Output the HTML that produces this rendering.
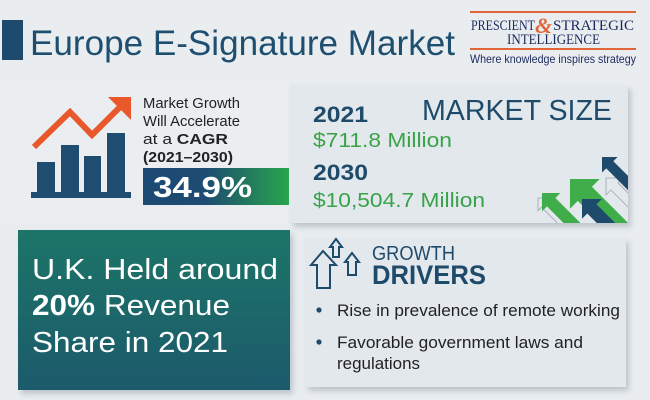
<!DOCTYPE html>
<html>
<head>
<meta charset="utf-8">
<style>
html,body{margin:0;padding:0;background:#e9edf0;}
svg{display:block;}
text{font-family:"Liberation Sans",sans-serif;}
</style>
</head>
<body>
<svg width="650" height="400" viewBox="0 0 650 400" xmlns="http://www.w3.org/2000/svg">
<defs>
<filter id="sh" x="-10%" y="-10%" width="125%" height="130%">
<feDropShadow dx="3" dy="4" stdDeviation="3" flood-color="#8a949e" flood-opacity="0.45"/>
</filter>
<linearGradient id="cagr" x1="0" y1="0" x2="1" y2="0">
<stop offset="0" stop-color="#1d4a72"/>
<stop offset="0.42" stop-color="#1d4b72"/>
<stop offset="1" stop-color="#28a54c"/>
</linearGradient>
<linearGradient id="teal" x1="0" y1="0" x2="0" y2="1">
<stop offset="0" stop-color="#1f7567"/>
<stop offset="1" stop-color="#1e5a6c"/>
</linearGradient>
<clipPath id="msclip"><rect x="290" y="85" width="338" height="138"/></clipPath>
</defs>

<rect x="0" y="0" width="650" height="400" fill="#e9edf0"/>

<!-- Title -->
<rect x="2" y="20" width="21" height="40" fill="#1e4a6e"/>
<text x="30" y="55" font-size="35" fill="#1f4f70" textLength="425" lengthAdjust="spacingAndGlyphs">Europe E-Signature Market</text>

<!-- Logo -->
<rect x="470" y="11" width="166" height="2" fill="#e0663a"/>
<rect x="470" y="48" width="166" height="2" fill="#e0663a"/>
<text x="471" y="30" font-family="Liberation Serif, serif" font-size="15" fill="#1b2a5e" textLength="64" lengthAdjust="spacingAndGlyphs" style="font-family:'Liberation Serif',serif">PRESCIENT</text>
<text x="535" y="33" font-size="22" font-style="italic" font-weight="bold" fill="#e0663a" style="font-family:'Liberation Serif',serif">&amp;</text>
<text x="553" y="30" font-size="15" fill="#1b2a5e" textLength="81" lengthAdjust="spacingAndGlyphs" style="font-family:'Liberation Serif',serif">STRATEGIC</text>
<text x="507" y="44" font-size="15" fill="#1b2a5e" textLength="93" lengthAdjust="spacingAndGlyphs" style="font-family:'Liberation Serif',serif">INTELLIGENCE</text>
<text x="470" y="63" font-size="12" fill="#1b2a5e" textLength="166" lengthAdjust="spacingAndGlyphs">Where knowledge inspires strategy</text>

<!-- Left top card -->
<rect x="3" y="80" width="287" height="142" fill="#eaeef1"/>
<!-- chart icon -->
<rect x="37" y="162" width="18" height="31" fill="#1e4d70"/>
<rect x="61" y="145" width="18" height="48" fill="#1e4d70"/>
<rect x="84" y="156" width="17" height="37" fill="#1e4d70"/>
<rect x="107" y="133" width="18" height="60" fill="#1e4d70"/>
<rect x="31" y="192" width="100" height="6" fill="#1e4d70"/>
<polyline points="34,147 70,112 92,135 122,105" fill="none" stroke="#e8582a" stroke-width="6" stroke-linejoin="miter"/>
<polygon points="108,97 131,97 131,120" fill="#e8582a"/>

<text x="143" y="108" font-size="14.5" fill="#222" textLength="97" lengthAdjust="spacingAndGlyphs">Market Growth</text>
<text x="143" y="126" font-size="14.5" fill="#222" textLength="97" lengthAdjust="spacingAndGlyphs">Will Accelerate</text>
<text x="143" y="144" font-size="14.5" fill="#222" textLength="85" lengthAdjust="spacingAndGlyphs">at a <tspan font-weight="bold">CAGR</tspan></text>
<text x="143" y="162" font-size="14.5" font-weight="bold" fill="#222" textLength="90" lengthAdjust="spacingAndGlyphs">(2021–2030)</text>

<rect x="143" y="168" width="146" height="37" fill="url(#cagr)"/>
<text x="153" y="197" font-size="29" font-weight="bold" fill="#ffffff" textLength="99" lengthAdjust="spacingAndGlyphs">34.9%</text>

<!-- Market size box -->
<rect x="290" y="85" width="338" height="138" fill="#e3e8ed" filter="url(#sh)"/>
<text x="313" y="122" font-size="22" font-weight="bold" fill="#1f4b6b" textLength="55" lengthAdjust="spacingAndGlyphs">2021</text>
<text x="313" y="147" font-size="20" fill="#3aa34a" textLength="139" lengthAdjust="spacingAndGlyphs">$711.8 Million</text>
<text x="313" y="180" font-size="22" font-weight="bold" fill="#1f4b6b" textLength="55" lengthAdjust="spacingAndGlyphs">2030</text>
<text x="313" y="207" font-size="20" fill="#3aa34a" textLength="172" lengthAdjust="spacingAndGlyphs">$10,504.7 Million</text>
<text x="422" y="120" font-size="29" fill="#1f4b6b" textLength="190" lengthAdjust="spacingAndGlyphs">MARKET SIZE</text>

<g clip-path="url(#msclip)">
  <!-- outline arrows -->
  <g transform="translate(538,198) rotate(-45)">
    <polygon points="0,0 9,9 4,9 4,60 -4,60 -4,9 -9,9" fill="none" stroke="#9aa4ad" stroke-width="0.8"/>
  </g>
  <g transform="translate(606,178) rotate(-45)">
    <polygon points="0,0 12,12 5,12 5,60 -5,60 -5,12 -12,12" fill="none" stroke="#9aa4ad" stroke-width="0.8"/>
  </g>
  <!-- small green -->
  <g transform="translate(542,193) rotate(-45)">
    <polygon points="0,0 13,13 6,13 6,80 -6,80 -6,13 -13,13" fill="#3fae4a"/>
  </g>
  <!-- big green -->
  <g transform="translate(570,179) rotate(-45)">
    <polygon points="0,0 21,21 10,21 10,100 -10,100 -10,21 -21,21" fill="#3fae4a"/>
  </g>
  <!-- mid dark blue -->
  <g transform="translate(582,199) rotate(-45)">
    <polygon points="0,0 14,14 6.5,14 6.5,80 -6.5,80 -6.5,14 -14,14" fill="#1e4a6b"/>
  </g>
  <!-- top dark blue -->
  <g transform="translate(602,157) rotate(-45)">
    <polygon points="0,0 11,11 5,11 5,60 -5,60 -5,11 -11,11" fill="#1e4a6b"/>
  </g>
</g>

<!-- Teal box -->
<rect x="18" y="230" width="272" height="160" fill="url(#teal)" filter="url(#sh)"/>
<text x="32" y="279" font-size="29" fill="#ffffff" textLength="246" lengthAdjust="spacingAndGlyphs">U.K. Held around</text>
<text x="32" y="315" font-size="29" fill="#ffffff" textLength="198" lengthAdjust="spacingAndGlyphs"><tspan font-weight="bold">20%</tspan> Revenue</text>
<text x="32" y="352" font-size="29" fill="#ffffff" textLength="196" lengthAdjust="spacingAndGlyphs">Share in 2021</text>

<!-- Growth drivers box -->
<rect x="305" y="238" width="321" height="149" fill="#e3e8ed" filter="url(#sh)"/>
<g fill="none" stroke="#1f4b6b" stroke-width="2" stroke-linejoin="miter">
  <polygon points="323,251 311,265 317,265 317,288 330,288 330,265 336,265"/>
  <polygon points="336,239 330,247 333,247 333,257 339,257 339,247 342,247"/>
  <polygon points="352,253 345,262 348,262 348,275 356,275 356,262 359,262"/>
</g>
<text x="372" y="260" font-size="20" fill="#1f4b6b" textLength="83" lengthAdjust="spacingAndGlyphs">GROWTH</text>
<text x="372" y="284" font-size="27" font-weight="bold" fill="#1f4b6b" textLength="114" lengthAdjust="spacingAndGlyphs">DRIVERS</text>
<circle cx="319" cy="310" r="2.6" fill="#1f4b6b"/>
<circle cx="319" cy="342" r="2.6" fill="#1f4b6b"/>
<text x="337" y="316" font-size="16.5" fill="#222" textLength="283" lengthAdjust="spacingAndGlyphs">Rise in prevalence of remote working</text>
<text x="337" y="348" font-size="16.5" fill="#222" textLength="246" lengthAdjust="spacingAndGlyphs">Favorable government laws and</text>
<text x="337" y="369" font-size="16.5" fill="#222" textLength="83" lengthAdjust="spacingAndGlyphs">regulations</text>
</svg>
</body>
</html>
